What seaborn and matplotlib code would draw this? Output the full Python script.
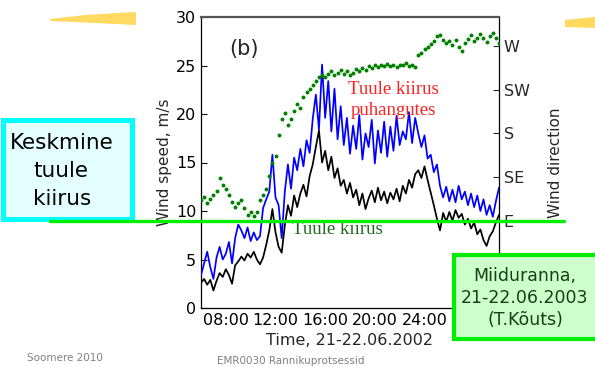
import numpy as np
import pandas as pd
import matplotlib
matplotlib.use("Agg")
import matplotlib.pyplot as plt
import seaborn as sns
from matplotlib.patches import Rectangle, Polygon
from matplotlib.lines import Line2D

# ---------------- data ----------------
t_start, t_step, n_pts = 6.0, 0.25, 97
time_h = [t_start + t_step * i for i in range(n_pts)]

mean_speed = [2.6, 3.0, 2.4, 2.9, 1.8, 2.8, 3.6, 3.2, 4.0, 3.4,
              2.5, 4.4, 4.8, 5.3, 4.9, 5.6, 5.2, 5.8, 5.0, 4.5,
              5.2, 6.5, 8.0, 10.2, 7.8, 6.3, 5.7, 8.5, 10.6, 9.5,
              11.6, 10.4, 11.8, 12.7, 11.5, 13.6, 14.8, 16.6, 18.3, 15.0,
              16.2, 14.2, 15.6, 13.4, 14.4, 12.6, 13.2, 11.8, 12.9, 11.4,
              12.2, 10.6, 11.8, 10.2, 11.3, 12.1, 10.9, 12.4, 11.1, 12.0,
              10.8, 11.9, 11.2, 12.3, 11.0, 12.6, 11.8, 13.2, 12.4, 13.8,
              14.2, 13.4, 14.6, 13.2, 11.9, 10.6, 9.2, 8.0, 9.8, 8.9,
              9.9, 9.0, 10.1, 9.3, 9.7, 8.6, 9.2, 8.2, 8.8, 7.6,
              8.1, 7.0, 6.4, 7.4, 7.9, 8.8, 9.6]

gust_speed = [3.4, 4.6, 5.8, 4.2, 3.0, 5.2, 6.3, 5.0, 5.6, 6.8,
              4.6, 7.2, 8.6, 8.0, 7.2, 8.3, 6.9, 7.8, 7.0, 7.4,
              10.3, 11.2, 12.0, 15.8, 11.4, 10.6, 7.2, 12.0, 14.8, 12.3,
              15.5, 14.2, 16.4, 14.6, 17.3, 16.0, 19.5, 22.0, 18.4, 25.1,
              19.6, 23.4, 18.2, 22.6, 17.4, 20.8, 16.8, 19.6, 15.9, 18.8,
              16.4, 19.9, 15.3, 18.0, 16.6, 19.4, 14.9, 18.3, 16.0, 19.2,
              15.6, 18.7, 16.2, 19.8, 16.8, 18.2, 17.4, 20.2, 17.0, 19.6,
              18.0, 16.6, 17.8, 15.4, 15.8, 14.0, 14.8, 12.6, 11.4, 12.5,
              11.0, 12.2, 10.9, 12.6, 11.2, 12.0, 10.6, 11.8, 10.4, 11.6,
              10.0, 11.2, 9.6, 10.6, 9.4, 11.0, 12.4]

direction_deg = [111, 114, 108, 112, 116, 121, 134, 127, 123, 116,
                 109, 104, 108, 111, 103, 96, 99, 95, 99, 111,
                 116, 123, 136, 150, 157, 178, 195, 201, 189, 195,
                 203, 210, 206, 218, 223, 226, 230, 234, 238, 240,
                 238, 241, 244, 240, 242, 245, 241, 244, 240, 242,
                 246, 244, 247, 245, 249, 247, 250, 248, 251, 249,
                 252, 249, 251, 248, 251, 250, 253, 249, 251, 248,
                 261, 263, 267, 269, 272, 275, 280, 281, 276, 273,
                 275, 271, 276, 269, 265, 273, 277, 281, 275, 278,
                 282, 278, 274, 280, 283, 278, 273]

x_ticks = [8, 12, 16, 20, 24]
x_tick_labels = ["08:00", "12:00", "16:00", "20:00", "24:00"]
y_ticks = [0, 5, 10, 15, 20, 25, 30]
dir_ticks = [90, 135, 180, 225, 270]
dir_labels = ["E", "SE", "S", "SW", "W"]

df = pd.DataFrame({"time": time_h, "mean": mean_speed,
                   "gust": gust_speed, "dir": direction_deg})

# ---------------- styling ----------------
sns.set_style("white")
plt.rcParams["font.family"] = ["DejaVu Sans"]

W, H = 595, 367
fig = plt.figure(figsize=(W / 100, H / 100), dpi=100)


def fx(px):
    return px / W


def fy(py):
    return 1 - py / H


ax = fig.add_axes([fx(201), fy(308), fx(499) - fx(201), fy(17) - fy(308)])

sns.lineplot(data=df, x="time", y="gust", color="#0000ff", lw=1.25, ax=ax, zorder=3)
sns.lineplot(data=df, x="time", y="mean", color="black", lw=1.25, ax=ax, zorder=4)

ax.set_xlim(6, 30)
ax.set_ylim(0, 30)
ax.set_xticks(x_ticks)
ax.set_xticklabels(x_tick_labels)
ax.set_yticks(y_ticks)
ax.tick_params(direction="in", length=4, labelsize=11.5, colors="black",
               width=0.8)
ax.set_xlabel("Time, 21-22.06.2002", fontsize=11.5, labelpad=4)
ax.set_ylabel("Wind speed, m/s", fontsize=11, labelpad=3)
for s in ["left", "bottom", "right"]:
    ax.spines[s].set_color("black")
    ax.spines[s].set_linewidth(0.9)
ax.spines["top"].set_color("#555555")
ax.spines["top"].set_linewidth(1.6)

ax.text(9.5, 26.7, "(b)", fontsize=15, ha="center", va="center")
ax.text(13.3, 8.1, "Tuule kiirus", fontsize=13.5, color="#1e6b1e",
        family="Liberation Serif", ha="left", va="center", zorder=1)
ax.text(21.5, 21.4, "Tuule kiirus\npuhangutes", fontsize=13.5, color="#ff2020",
        family="Liberation Serif", ha="center", va="center", linespacing=1.3,
        zorder=5)

ax2 = ax.twinx()
sns.scatterplot(data=df, x="time", y="dir", color="#008000", s=8,
                linewidth=0, edgecolor=None, ax=ax2, zorder=5)
ax2.set_ylim(0, 300)
ax2.set_xlim(6, 30)
ax2.set_yticks(dir_ticks)
ax2.set_yticklabels(dir_labels)
ax2.tick_params(direction="in", length=4, labelsize=11.5, width=0.8)
ax2.set_ylabel("Wind direction", fontsize=11, labelpad=13)
ax2.set_xlabel("")
for s in ["left", "bottom", "right", "top"]:
    ax2.spines[s].set_visible(False)

# ---------------- slide decorations ----------------
# yellow brush strokes
fig.add_artist(Polygon([(fx(50), fy(19)), (fx(85), fy(15)), (fx(136), fy(12)),
                        (fx(136), fy(25)), (fx(95), fy(23)), (fx(50), fy(21))],
                       closed=True, facecolor="#ffd54f", edgecolor="none",
                       alpha=0.9, transform=fig.transFigure))
fig.add_artist(Polygon([(fx(565), fy(20)), (fx(595), fy(17)), (fx(595), fy(28)),
                        (fx(565), fy(27))],
                       closed=True, facecolor="#ffd54f", edgecolor="none",
                       alpha=0.9, transform=fig.transFigure))

# left cyan box
fig.add_artist(Rectangle((fx(2.5), fy(218.5)), fx(131.5) - fx(2.5),
                         fy(119.5) - fy(218.5), facecolor="#e4ffff",
                         edgecolor="#00ffff", lw=3.6,
                         transform=fig.transFigure, zorder=20))
fig.text(fx(10), fy(143), "Keskmine", fontsize=15.5, ha="left", va="center",
         color="black", zorder=21)
fig.text(fx(33), fy(171), "tuule", fontsize=15.5, ha="left", va="center",
         color="black", zorder=21)
fig.text(fx(33), fy(199), "kiirus", fontsize=15.5, ha="left", va="center",
         color="black", zorder=21)

# right green box
fig.add_artist(Rectangle((fx(454), fy(339)), fx(620) - fx(454),
                         fy(255) - fy(339), facecolor="#ccffcc",
                         edgecolor="#00ee00", lw=3.0,
                         transform=fig.transFigure, zorder=20))
fig.text(fx(525), fy(298), "Miiduranna,\n21-22.06.2003\n(T.Kõuts)",
         fontsize=12.5, color="#163f16", ha="center", va="center",
         linespacing=1.3, zorder=21)

# bright green horizontal marker line
fig.add_artist(Line2D([fx(50), fx(564)], [fy(220.5), fy(220.5)],
                      color="#00ee00", lw=2.4, transform=fig.transFigure,
                      zorder=30))

# footer
fig.text(fx(27), fy(358), "Soomere 2010", fontsize=7.5, color="#808080",
         ha="left", va="center")
fig.text(fx(217), fy(361), "EMR0030 Rannikuprotsessid", fontsize=7.5,
         color="#808080", ha="left", va="center")

fig.savefig("out.png", dpi=100)
